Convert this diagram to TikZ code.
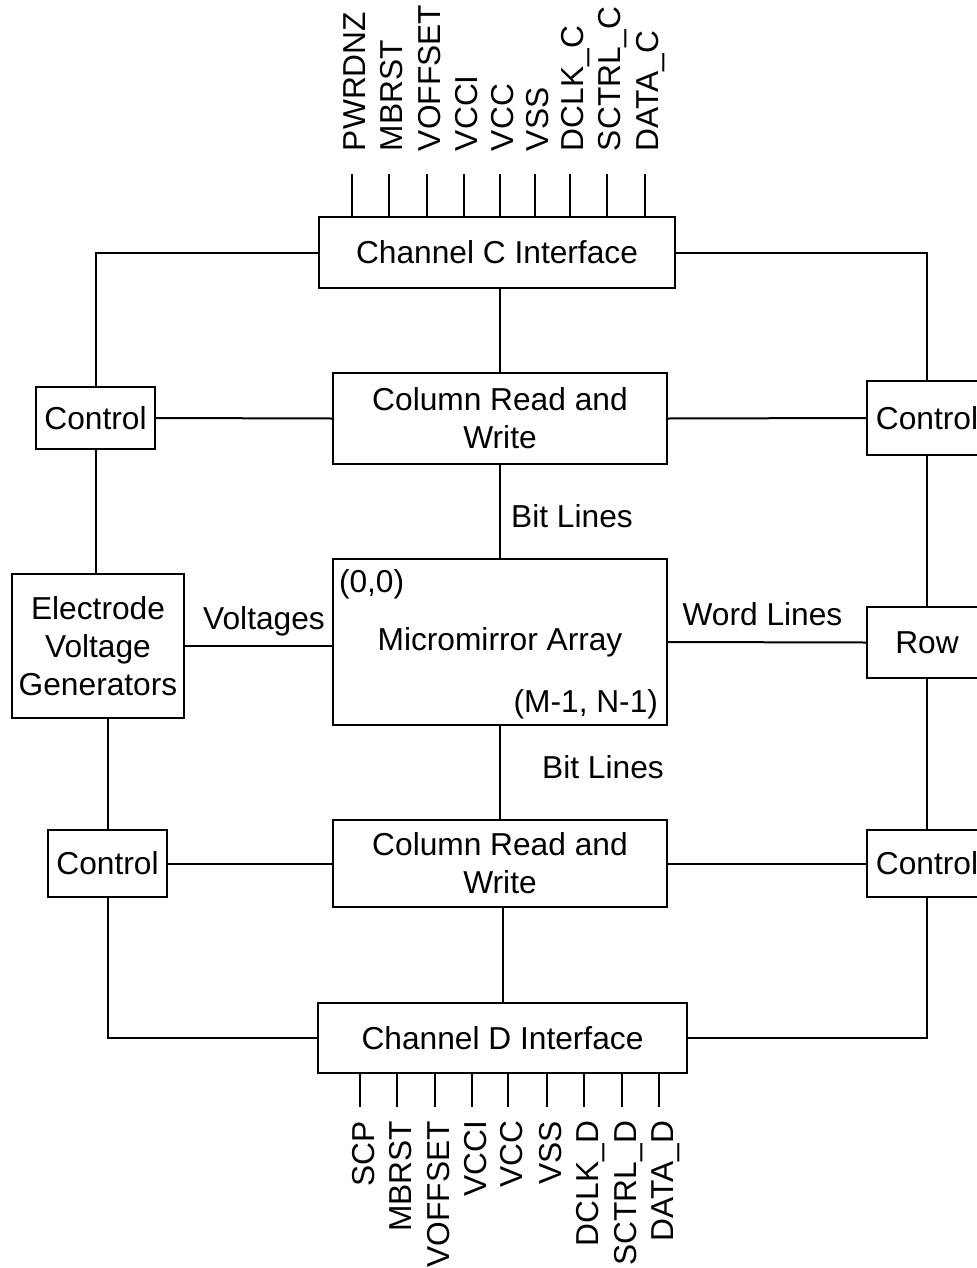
\documentclass[tikz,border=0pt]{standalone}
\usepackage{fontspec}
\setmainfont{Liberation Sans}
\usepackage{tikz}
\usetikzlibrary{calc}

\begin{document}
\begin{tikzpicture}[x=0.5pt,y=-0.5pt,line width=1pt,
  blk/.style={draw,rectangle,inner sep=0pt,align=center,font=\fontsize{15.85}{18.9}\selectfont},
  lbl/.style={inner sep=0pt,font=\fontsize{15.85}{18.9}\selectfont},
  pinlbl/.style={inner sep=0pt,rotate=90,font=\fontsize{15.85}{18.9}\selectfont}]

  \useasboundingbox (0,0) rectangle (977,1268);

  \node[blk,minimum width=178pt,minimum height=35.5pt] at (497,252.5) (chC) {Channel C Interface};
  \node[blk,minimum width=167pt,minimum height=45.5pt] at (500,418.5) (crwT) {Column Read and\\Write};
  \node[blk,minimum width=167pt,minimum height=83pt] at (500,642) (ma) {Micromirror Array};
  \node[blk,minimum width=167pt,minimum height=43.5pt] at (500,863.5) (crwB) {Column Read and\\Write};
  \node[blk,minimum width=184.5pt,minimum height=35pt] at (502.5,1038) (chD) {Channel D Interface};

  \node[blk,minimum width=59.5pt,minimum height=31pt] at (95.5,418) (ctlTL) {Control};
  \node[blk,minimum width=86pt,minimum height=72pt] at (98,646) (evg) {Electrode\\Voltage\\Generators};
  \node[blk,minimum width=59.5pt,minimum height=33.5pt] at (107.5,863.5) (ctlBL) {Control};

  \node[blk,minimum width=60pt,minimum height=37pt] at (927,418) (ctlTR) {Control};
  \node[blk,minimum width=60pt,minimum height=35.5pt] at (927,642.5) (row) {Row};
  \node[blk,minimum width=60pt,minimum height=33.5pt] at (927,863.5) (ctlBR) {Control};

  % array corners
  \node[lbl,anchor=base west] at (338,592) (org) {(0,0)};
  \node[lbl,anchor=base east] at (659,712) (last) {(M-1, N-1)};

  % top ring
  \draw (chC.west) -| (ctlTL.north);
  \draw (chC.east) -| (ctlTR.north);
  \draw (crwT.north) -- (crwT.north |- chC.south);
  \draw (ctlTL.east) -- (crwT.west);
  \draw (crwT.east) -- (ctlTR.west);
  \draw (ctlTL.south) -- (ctlTL.south |- evg.north);
  \draw (ctlTR.south) -- (row.north);

  % array
  \draw (crwT.south) -- (ma.north);
  \node[lbl,anchor=base] at (572,527) (blT) {Bit Lines};
  \draw (evg.east) -- (evg.east -| ma.west);
  \node[lbl,anchor=base] at (264,629) (volt) {Voltages};
  \draw (ma.east) -- (row.west);
  \node[lbl,anchor=base] at (762.5,625) (wl) {Word Lines};
  \draw (ma.south) -- (crwB.north);
  \node[lbl,anchor=base] at (603,778) (blB) {Bit Lines};

  % bottom ring
  \draw (ctlBL.north) -- (ctlBL.north |- evg.south);
  \draw (row.south) -- (ctlBR.north);
  \draw (ctlBL.east) -- (crwB.west);
  \draw (crwB.east) -- (ctlBR.west);
  \draw (chD.north) -- (chD.north |- crwB.south);
  \draw (ctlBL.south) |- (chD.west);
  \draw (chD.east) -| (ctlBR.south);

  % pins
  \foreach \x/\t [count=\i] in {352/PWRDNZ,389/MBRST,427/VOFFSET,464/VCCI,500/VCC,535/VSS,570/DCLK\_C,607/SCTRL\_C,645/DATA\_C}{
    \coordinate (pc\i) at (\x,174);
    \draw (pc\i) -- (pc\i |- chC.north);
    \node[pinlbl,anchor=base west] at (\x+13.5,152) (lc\i) {\t};
  }
  \foreach \x/\t [count=\i] in {360/SCP,397/MBRST,435/VOFFSET,472/VCCI,508/VCC,547/VSS,584/DCLK\_D,622/SCTRL\_D,659/DATA\_D}{
    \coordinate (pd\i) at (\x,1107);
    \draw (pd\i) -- (pd\i |- chD.south);
    \node[pinlbl,anchor=base east] at (\x+14,1120) (ld\i) {\t};
  }

\end{tikzpicture}
\end{document}
